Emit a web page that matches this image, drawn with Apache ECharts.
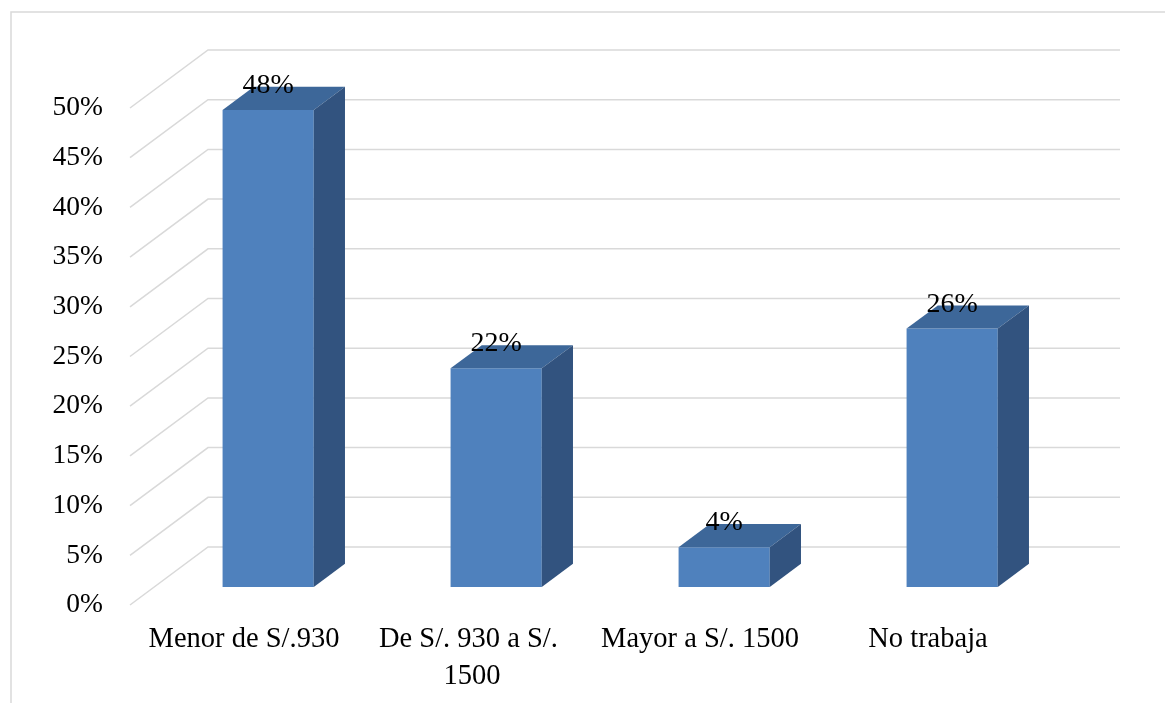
<!DOCTYPE html>
<html>
<head>
	<meta charset="utf-8" />
	<title></title>
	<script type="text/javascript" src="https://cdn.jsdelivr.net/npm/echarts@6/dist/echarts.min.js"></script>
</head>
<body style="margin:0;">
	<div id="main" style="width: 1165px;height:703px;"></div>
	<script>
		var categories = ['Menor de S/.930', 'De S/. 930 a S/. 1500', 'Mayor a S/. 1500', 'No trabaja'];
		var values = [48, 22, 4, 26];
		var yTicks = [0, 5, 10, 15, 20, 25, 30, 35, 40, 45, 50];

		// 3D look: depth offset of the back wall
		var DX = 78, DY = 58;
		var font = 'Liberation Serif, Times New Roman, serif';

		function renderWall(params, api) {
			var cs = params.coordSys;
			var y = api.coord([0, api.value(1)])[1];
			return {
				type: 'polyline',
				shape: { points: [[cs.x, y], [cs.x + DX, y - DY], [cs.x + cs.width + DX, y - DY]] },
				style: { stroke: '#D9D9D9', lineWidth: 1.5, fill: null }
			};
		}

		function renderBar(params, api) {
			var cat = api.value(0), val = api.value(1);
			var base = api.coord([cat, 0]);
			var top = api.coord([cat, val]);
			var band = api.size([1, 0])[0];
			var w = band * 0.4;
			var f0 = 0.31, f = 0.4;
			var x0 = base[0] - w / 2 + DX * f0;
			var yT = top[1] - DY * f0;
			var yB = base[1] - DY * f0;
			var bx = DX * f, by = DY * f;
			return {
				type: 'group',
				children: [
					{ type: 'rect', shape: { x: x0, y: yT, width: w, height: yB - yT }, style: { fill: '#4F81BD' } },
					{ type: 'polygon', shape: { points: [[x0, yT], [x0 + w, yT], [x0 + w + bx, yT - by], [x0 + bx, yT - by]] }, style: { fill: '#3D6799' } },
					{ type: 'polygon', shape: { points: [[x0 + w, yT], [x0 + w + bx, yT - by], [x0 + w + bx, yB - by], [x0 + w, yB]] }, style: { fill: '#32537F' } },
					{ type: 'text', style: { text: val + '%', x: x0 + w / 2, y: yT - by - 1, align: 'center', verticalAlign: 'middle', font: '28px ' + font, fill: '#000' } }
				]
			};
		}

		var myChart = echarts.init(document.getElementById('main'));
		var option = {
			animation: false,
			backgroundColor: '#fff',
			graphic: [{
				type: 'rect',
				shape: { x: 11, y: 12, width: 1300, height: 1000 },
				style: { fill: null, stroke: '#D9D9D9', lineWidth: 1.5 },
				silent: true
			}],
			grid: { left: 130, right: 123, top: 108, bottom: 98 },
			xAxis: {
				type: 'category',
				data: categories,
				axisLine: { show: false },
				axisTick: { show: false },
				axisLabel: {
					interval: 0,
					margin: 16,
					fontSize: 28.5,
					lineHeight: 37,
					fontFamily: font,
					color: '#000',
					width: 222,
					overflow: 'break'
				}
			},
			yAxis: {
				type: 'value',
				min: 0,
				max: 50,
				interval: 5,
				axisLine: { show: false },
				axisTick: { show: false },
				splitLine: { show: false },
				axisLabel: {
					formatter: '{value}%',
					margin: 27,
					fontSize: 27.5,
					fontFamily: font,
					color: '#000'
				}
			},
			series: [{
				type: 'custom',
				renderItem: renderWall,
				data: yTicks.map(function (v) { return [0, v]; }),
				silent: true,
				z: 1
			}, {
				type: 'custom',
				renderItem: renderBar,
				data: values.map(function (v, i) { return [i, v]; }),
				z: 2
			}]
		};
		myChart.setOption(option);
	</script>
</body>
</html>
